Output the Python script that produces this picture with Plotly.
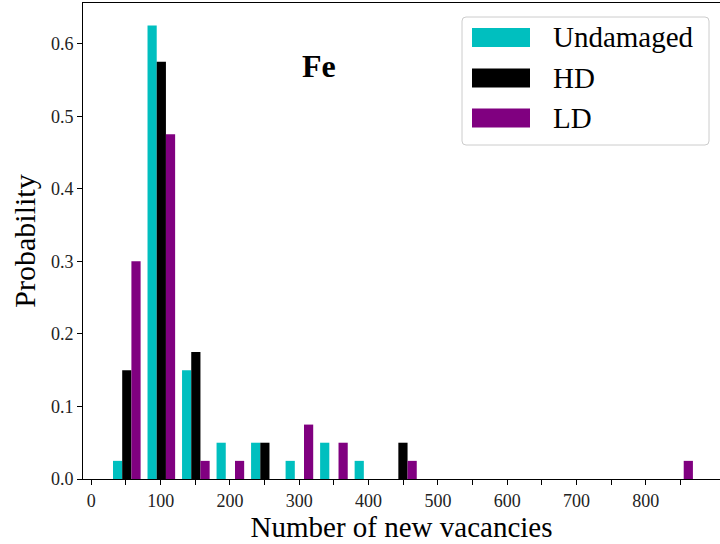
import plotly.graph_objects as go

# Histogram bins (centres of 17 equal-width bins, number of new vacancies)
bin_centers = [51.2, 101.0, 150.8, 200.6, 250.4, 300.2, 350.0, 399.8, 449.6,
               499.4, 549.2, 599.0, 648.8, 698.6, 748.4, 798.2, 848.0]

# Probabilities per bin for each series
undamaged = [0.025, 0.625, 0.150, 0.050, 0.050, 0.025, 0.050, 0.025, 0.000,
             0.0, 0.0, 0.0, 0.0, 0.0, 0.0, 0.0, 0.000]
hd        = [0.150, 0.575, 0.175, 0.000, 0.050, 0.000, 0.000, 0.000, 0.050,
             0.0, 0.0, 0.0, 0.0, 0.0, 0.0, 0.0, 0.000]
ld        = [0.300, 0.475, 0.025, 0.025, 0.000, 0.075, 0.050, 0.000, 0.025,
             0.0, 0.0, 0.0, 0.0, 0.0, 0.0, 0.0, 0.025]

series_names = ["Undamaged", "HD", "LD"]
series_colors = ["#00bfbf", "#000000", "#800080"]

x_tick_vals = [0, 50, 100, 150, 200, 250, 300, 350, 400, 450, 500, 550, 600, 650, 700, 750, 800, 850]
x_tick_text = ["0", "", "100", "", "200", "", "300", "", "400", "", "500", "", "600", "", "700", "", "800", ""]
y_tick_vals = [0.0, 0.1, 0.2, 0.3, 0.4, 0.5, 0.6]

FONT = "Liberation Serif"

fig = go.Figure()
for name, vals, col in zip(series_names, [undamaged, hd, ld], series_colors):
    fig.add_trace(go.Bar(x=bin_centers, y=vals, name=name,
                         marker=dict(color=col, line=dict(width=0)),
                         showlegend=False))

fig.update_layout(
    width=720, height=544,
    margin=dict(l=83, r=0, t=3, b=65),
    paper_bgcolor="white", plot_bgcolor="white",
    barmode="group", bargap=0.2, bargroupgap=0,
    font=dict(family=FONT, color="black", size=18),
    xaxis=dict(range=[-12, 907], tickmode="array", tickvals=x_tick_vals, ticktext=x_tick_text,
               ticks="outside", ticklen=5, tickwidth=1, tickcolor="black",
               showline=True, linecolor="black", linewidth=1, mirror=True,
               showgrid=False, zeroline=False,
               tickfont=dict(family=FONT, size=18, color="#222222"),
               title=dict(text="Number of new vacancies", font=dict(family=FONT, size=29), standoff=5)),
    yaxis=dict(range=[0, 0.656], tickmode="array", tickvals=y_tick_vals, tickformat=".1f",
               ticks="outside", ticklen=5, tickwidth=1, tickcolor="black",
               showline=True, linecolor="black", linewidth=1, mirror=False,
               showgrid=False, zeroline=False,
               tickfont=dict(family=FONT, size=18, color="#222222"),
               title=dict(text="Probability", font=dict(family=FONT, size=30), standoff=6)),
)

# Panel label
fig.add_annotation(text="<b>Fe</b>", xref="paper", yref="paper", x=0.37, y=0.868,
                   xanchor="center", yanchor="middle", showarrow=False,
                   font=dict(family=FONT, size=32, color="black"))

# Legend (drawn as box + patches + text)
pw, ph = 637.0, 476.0
def px_x(p):
    return (p - 83.0) / pw
def px_y(p):
    return (479.0 - p) / ph

bx0, bx1, by0, by1 = 462, 709, 17, 145
r = 4
path = (f"M {px_x(bx0 + r)} {px_y(by0)} L {px_x(bx1 - r)} {px_y(by0)} "
        f"Q {px_x(bx1)} {px_y(by0)} {px_x(bx1)} {px_y(by0 + r)} "
        f"L {px_x(bx1)} {px_y(by1 - r)} Q {px_x(bx1)} {px_y(by1)} {px_x(bx1 - r)} {px_y(by1)} "
        f"L {px_x(bx0 + r)} {px_y(by1)} Q {px_x(bx0)} {px_y(by1)} {px_x(bx0)} {px_y(by1 - r)} "
        f"L {px_x(bx0)} {px_y(by0 + r)} Q {px_x(bx0)} {px_y(by0)} {px_x(bx0 + r)} {px_y(by0)} Z")
fig.add_shape(type="path", path=path, xref="paper", yref="paper",
              line=dict(color="#cccccc", width=1), fillcolor="rgba(255,255,255,0.8)", layer="above")

row_centers = [37.5, 78, 118]
for name, col, yc in zip(series_names, series_colors, row_centers):
    fig.add_shape(type="rect", xref="paper", yref="paper",
                  x0=px_x(472), x1=px_x(530), y0=px_y(yc - 9.5), y1=px_y(yc + 9.5),
                  line=dict(width=0), fillcolor=col, layer="above")
    fig.add_annotation(text=name, xref="paper", yref="paper", x=px_x(551), y=px_y(yc),
                       xanchor="left", yanchor="middle", showarrow=False,
                       font=dict(family=FONT, size=29, color="black"))

fig.write_html("out.html")
